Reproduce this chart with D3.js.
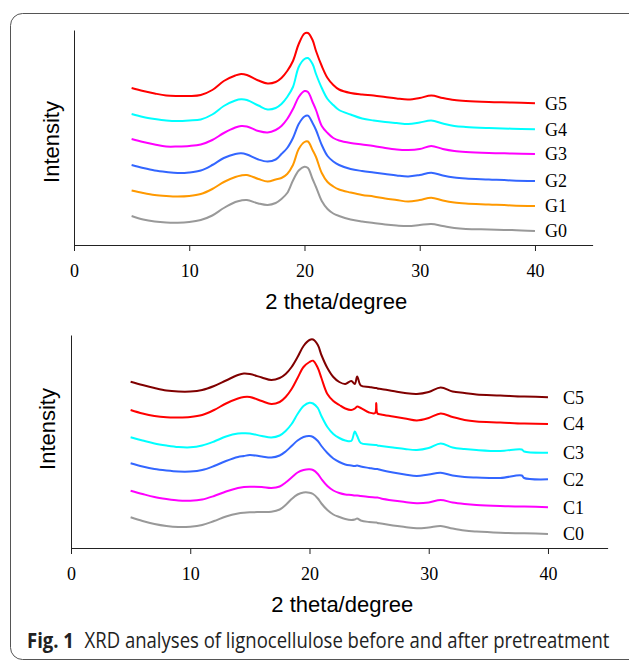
<!DOCTYPE html>
<html>
<head>
<meta charset="utf-8">
<script src="https://cdn.jsdelivr.net/npm/d3@7"></script>
<style>
    html, body { margin: 0; padding: 0; background: #fff; }
    svg { display: block; }
</style>
</head>
<body>
<svg id="chart" width="629" height="662"></svg>
<script>
const degTop = [5, 6, 7, 8, 9, 10, 11, 12, 13, 14, 14.5, 15, 16, 16.8, 17.5, 18, 18.5, 19, 19.5, 20, 20.3, 20.7, 21, 21.5, 22, 22.5, 23, 24, 25, 26, 27, 28, 29, 30, 31, 32, 33, 34, 36, 38, 40];
const degBottom = [5, 6, 7, 8, 9, 10, 11, 12, 13, 14, 14.5, 15, 16, 16.8, 17.5, 18, 18.5, 19, 19.5, 20, 20.3, 20.7, 21, 21.5, 22, 22.5, 23, 23.5, 23.8, 24, 24.3, 25, 25.5, 25.6, 25.7, 26, 27, 28, 29, 30, 31, 32, 33, 34, 36, 37.8, 38, 40];

// intensity (a.u., stacked traces)
const g0 = [29, 25.5, 23.5, 22.5, 22.3, 23, 25, 29.5, 37, 43, 44.5, 45, 41.5, 40, 42, 46, 52, 64.5, 74.5, 78.3, 77, 66, 58, 44, 36, 31.5, 29, 25.5, 23.5, 22, 20.5, 19.5, 19, 20, 21, 19, 17, 16, 15.5, 15, 14];
const g1 = [54.5, 52, 50, 49, 48.5, 49, 51, 56, 63, 68, 69.5, 70, 66, 63.5, 65.5, 67, 71, 80, 96, 103, 103.5, 95, 88, 72, 63, 58.5, 55.5, 52.5, 50, 48.5, 46.5, 45, 43.5, 45, 47.3, 44.5, 42.5, 41.5, 40.5, 39.5, 39];
const g2 = [80, 77, 74.5, 73, 72, 72.5, 74.5, 80, 87, 91, 91.7, 90.5, 85.5, 83.5, 85.5, 91, 97, 107, 121, 128.5, 129.3, 122, 115, 100, 89, 83.5, 80, 76, 74, 72.5, 71, 69.5, 68.5, 70, 72.3, 69.5, 67.5, 66.5, 65.5, 64.5, 64];
const g3 = [106, 103, 100.5, 98.5, 98.5, 99, 100.5, 105, 112, 117.5, 119, 118.5, 114, 112.5, 115, 119, 126, 136, 148, 154, 153, 143, 135, 119, 112, 107, 104.5, 102, 100.5, 99, 97, 95.5, 95, 96, 99, 96, 94, 93, 92, 91.5, 91];
const g4 = [131, 128, 126, 124.5, 124, 124.5, 125.5, 130.5, 139, 144.5, 145.7, 145, 139.5, 135.5, 137, 141, 148, 158, 178, 186, 187, 181, 171, 157, 146, 140, 135, 130.5, 126.5, 124.5, 123, 122, 121, 122.5, 124.5, 121.5, 119, 118, 117, 116.3, 115.7];
const g5 = [157, 154, 151.5, 149.5, 149, 149, 150, 155, 164, 169.5, 171, 170, 164.5, 161.5, 163, 167, 174, 184, 201, 211.5, 212, 205, 194, 179, 167, 160, 155.5, 152, 150.5, 149.5, 148, 146.5, 145.5, 147, 149.5, 147, 145, 144, 143, 142.5, 141.7];

const c0 = [30.7, 27, 24, 22, 21, 21.3, 23, 27, 31.5, 34.5, 35.3, 35.7, 36, 36.3, 38.5, 43, 49, 53.5, 55.5, 55.3, 54, 49.5, 44.5, 38, 33.5, 31, 29, 28, 28.5, 29.5, 27.5, 26, 25.5, 25.5, 25, 24.5, 22.5, 21, 19.7, 20.5, 22, 19.5, 17.5, 16.5, 15.3, 14.7, 14.7, 14];
const c1 = [57.3, 54, 51, 49, 47.5, 47.3, 48.5, 52, 56.5, 60, 61, 61.3, 61, 60, 61.5, 65.5, 70.5, 75.5, 78, 78.7, 78, 74, 69, 62, 57.5, 55, 53.5, 53, 52.5, 52.5, 52, 51, 50.5, 50.5, 50.5, 49.5, 47.5, 46, 44.7, 45.5, 48, 45.5, 44, 43, 42, 41.5, 41.5, 40.7];
const c2 = [84.7, 81.5, 79, 77.5, 76.5, 76.5, 78, 82, 87, 91, 92, 93, 91.5, 90.5, 92.5, 96.5, 102, 107.5, 111, 112, 111, 107, 102, 95, 89.5, 86, 83.5, 82.5, 82, 82.5, 81.5, 80, 79, 79, 79, 78, 75.5, 73.5, 72, 73.5, 75.3, 72.5, 71, 70.5, 70, 72.5, 70, 68.7];
const c3 = [110.7, 107.5, 104.5, 102.5, 101, 100.7, 102.5, 106.5, 111.5, 114.5, 114.7, 114.5, 112, 110.5, 112.5, 117, 124, 134, 142, 145.3, 144.5, 140, 132, 121, 114, 110, 107.5, 107, 116.5, 112, 105, 103.5, 103, 103, 102.5, 102, 100.5, 99, 98, 100, 104.5, 100.5, 99, 98, 97, 98.5, 96.5, 95.3];
const c4 = [138, 134.5, 132, 130.7, 130.5, 131, 133, 138, 144.5, 149.5, 151, 151, 147, 144, 146, 151, 159, 170, 181, 186, 187.3, 180, 170, 154, 147, 143, 139.5, 138, 139.5, 141.5, 140, 135.5, 135, 145, 134.5, 133.5, 131.5, 129.5, 127.5, 130, 134.5, 131, 128, 126.5, 125.5, 124.5, 124.5, 124];
const c5 = [166.3, 163, 160, 157.5, 156.5, 156.5, 158, 162, 167.5, 173, 174.5, 174, 170.5, 168, 170, 174, 181, 191, 202, 208, 208.5, 203, 193, 180, 171, 166, 164, 167, 164, 171.5, 162.5, 161, 160, 160, 159.5, 159, 157, 155, 154, 156, 160.5, 156.5, 155, 153.5, 152.5, 151.5, 151.5, 150.7];

const topNames = ["G0", "G1", "G2", "G3", "G4", "G5"];
const bottomNames = ["C0", "C1", "C2", "C3", "C4", "C5"];
const xTicks = [0, 10, 20, 30, 40];

const topColors = ["#999999", "#ff9900", "#3366ff", "#ff00ff", "#00ffff", "#ff0000"];
const bottomColors = ["#999999", "#ff00ff", "#3366ff", "#00ffff", "#ff0000", "#800000"];

const svg = d3.select("#chart");

// figure frame
svg.append("rect")
    .attr("x", 10.5)
    .attr("y", 13.5)
    .attr("width", 640)
    .attr("height", 646)
    .attr("rx", 12)
    .attr("fill", "none")
    .attr("stroke", "#555")
    .attr("stroke-width", 1);

function drawPanel(p) {
    const x = d3.scaleLinear().domain([0, 45]).range([p.left, p.right]);
    const y = d3.scaleLinear().domain([0, p.yMax]).range([p.bottom, p.top]);

    const g = svg.append("g");

    const line = d3.line()
        .x(d => x(d[0]))
        .y(d => y(d[1]))
        .curve(d3.curveCatmullRom.alpha(0.5));

    p.series.forEach((values, i) => {
        const pts = d3.zip(p.degs, values);
        g.append("path")
            .datum(pts)
            .attr("fill", "none")
            .attr("stroke", p.colors[i])
            .attr("stroke-width", 2)
            .attr("stroke-linejoin", "round")
            .attr("d", line);

        const last = pts[pts.length - 1];
        g.append("text")
            .attr("x", x(40) + p.labelDx)
            .attr("y", y(last[1]))
            .attr("dy", "0.35em")
            .attr("font-family", "'Liberation Serif', 'Times New Roman', serif")
            .attr("font-size", 18)
            .attr("fill", "#000")
            .text(p.names[i]);
    });

    const xAxis = g.append("g")
        .attr("transform", `translate(0,${p.bottom})`)
        .call(d3.axisBottom(x).tickValues(xTicks).tickSize(6).tickSizeOuter(0).tickPadding(13));
    xAxis.select(".domain").attr("stroke", "#222");
    xAxis.selectAll(".tick line").attr("stroke", "#222");
    xAxis.selectAll(".tick text")
        .attr("font-family", "'Liberation Serif', 'Times New Roman', serif")
        .attr("font-size", 18)
        .attr("fill", "#000");

    const yAxis = g.append("g")
        .attr("transform", `translate(${p.left},0)`)
        .call(d3.axisLeft(y).tickValues([]).tickSizeOuter(0));
    yAxis.select(".domain").attr("stroke", "#222");

    g.append("text")
        .attr("x", (p.left + p.right) / 2 + 3)
        .attr("y", p.titleY)
        .attr("text-anchor", "middle")
        .attr("font-family", "'Liberation Sans', Arial, sans-serif")
        .attr("font-size", 22)
        .attr("fill", "#000")
        .text("2 theta/degree");

    g.append("text")
        .attr("transform", `translate(${p.intX},${p.intY}) rotate(-90)`)
        .attr("text-anchor", "middle")
        .attr("font-family", "'Liberation Sans', Arial, sans-serif")
        .attr("font-size", 22)
        .attr("fill", "#000")
        .text("Intensity");
}

drawPanel({
    left: 74, right: 592.6, top: 30, bottom: 245, yMax: 215,
    degs: degTop, series: [g0, g1, g2, g3, g4, g5],
    names: topNames, colors: topColors, labelDx: 10,
    titleY: 309, intX: 59, intY: 142
});

drawPanel({
    left: 71, right: 607.6, top: 335, bottom: 548, yMax: 213,
    degs: degBottom, series: [c0, c1, c2, c3, c4, c5],
    names: bottomNames, colors: bottomColors, labelDx: 15,
    titleY: 612, intX: 55, intY: 429
});

// caption
const caption = svg.append("text")
    .attr("font-family", "'Open Sans', 'Noto Sans', sans-serif")
    .attr("font-size", 21)
    .attr("fill", "#222");
caption.append("tspan").attr("font-weight", "bold").text("Fig. 1");
caption.append("tspan").attr("dx", 12).text("XRD analyses of lignocellulose before and after pretreatment");
const capLen = caption.node().getComputedTextLength();
caption.attr("transform", `translate(27,648) scale(${572 / capLen},1)`);
</script>
</body>
</html>
